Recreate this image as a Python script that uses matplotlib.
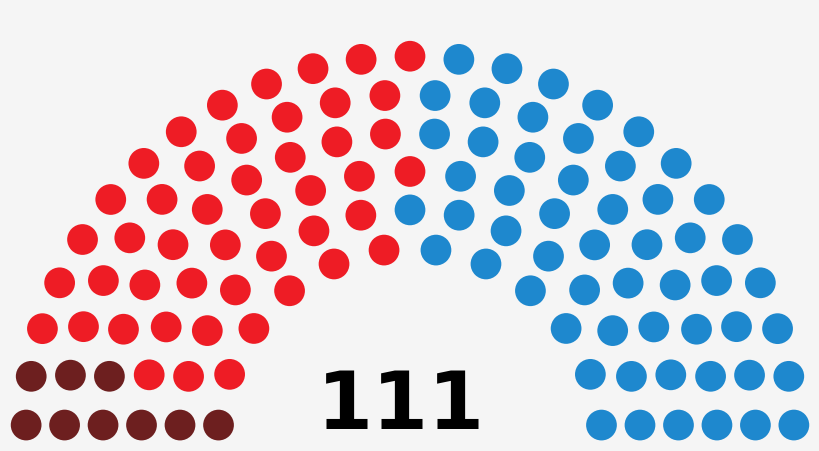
import math
import matplotlib
matplotlib.use('Agg')
import matplotlib.pyplot as plt
from matplotlib.patches import Circle

# seats per party, in order from the left of the hemicycle
party_names = ['Party A', 'Party B', 'Party C']
party_seats = [9, 47, 55]
party_colors = ['#6d1f1f', '#ee1c25', '#1e88ce']
total_label = '111'

# rows needed for a given number of seats
totals = [3, 15, 33, 61, 95, 138, 189, 247, 313, 388, 469, 559, 657, 762, 876, 997]


def seat_positions(n_seats):
    rows = 0
    for r in range(len(totals)):
        if n_seats < totals[r]:
            rows = r + 1
            break
    radius = 0.4 / rows
    poslist = []
    for i in range(1, rows):
        J = int(float(n_seats) / totals[rows - 1] * math.pi /
                (2 * math.asin(2.0 / (3.0 * rows + 4.0 * i - 2.0))))
        R = (3.0 * rows + 4.0 * i - 2.0) / (4.0 * rows)
        if J == 1:
            poslist.append([math.pi / 2.0, 1.75, R])
        else:
            for j in range(J):
                angle = float(j) * (math.pi - 2.0 * math.sin(radius / R)) / (float(J) - 1.0) + math.sin(radius / R)
                poslist.append([angle, R * math.cos(angle) + 1.75, R * math.sin(angle)])
    J = n_seats - len(poslist)
    R = (7.0 * rows - 2.0) / (4.0 * rows)
    if J == 1:
        poslist.append([math.pi / 2.0, 1.75, R])
    else:
        for j in range(J):
            angle = float(j) * (math.pi - 2.0 * math.sin(radius / R)) / (float(J) - 1.0) + math.sin(radius / R)
            poslist.append([angle, R * math.cos(angle) + 1.75, R * math.sin(angle)])
    poslist.sort(reverse=True)
    return poslist, radius


positions, dot_r = seat_positions(sum(party_seats))

fig = plt.figure(figsize=(8.2, 4.51), dpi=100)
fig.patch.set_facecolor('#f5f5f5')
ax = fig.add_axes([0, 0, 1, 1])
ax.set_facecolor('#f5f5f5')

k = 0
for n, col in zip(party_seats, party_colors):
    for _ in range(n):
        _, x, y = positions[k]
        ax.add_patch(Circle((x, y), dot_r, facecolor=col, edgecolor='none'))
        k += 1

ax.text(1.71, 0.049, total_label, ha='center', va='baseline',
        fontsize=58, fontweight='bold', family='DejaVu Sans', color='black')

ax.set_xlim(-0.0287, 3.5287)
ax.set_ylim(-0.046, 1.9106)
ax.set_aspect('auto')
ax.axis('off')

plt.savefig('out.png', dpi=100, facecolor=fig.get_facecolor())
